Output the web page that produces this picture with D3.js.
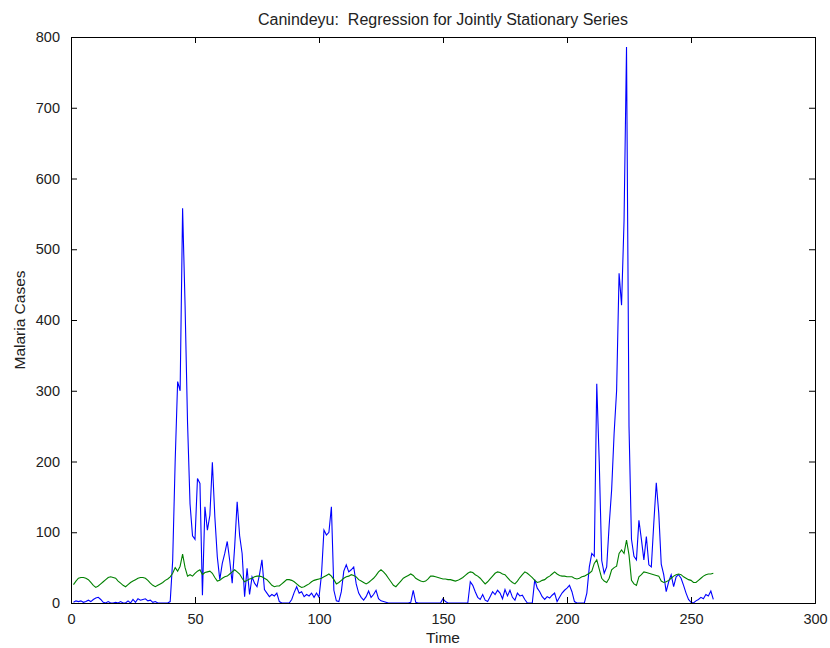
<!DOCTYPE html>
<html><head><meta charset="utf-8">
<script src="https://cdn.jsdelivr.net/npm/d3@7"></script>
<style>
html,body{margin:0;padding:0;background:#fff;}
svg{display:block;}
text{font-family:"Liberation Sans",Arial,sans-serif;fill:#222;}
</style></head>
<body>
<svg id="c" width="830" height="648"></svg>
<script>
const title = "Canindeyu:  Regression for Jointly Stationary Series";
const xLabel = "Time";
const yLabel = "Malaria Cases";
const xTicks = [0,50,100,150,200,250,300];
const yTicks = [0,100,200,300,400,500,600,700,800];

// Observed malaria cases (blue), t = 1..259
const observed = [
1,3,2,3,1,2,4,2,5,7, 8,5,1,0,2,0,0,1,0,2, 0,0,3,0,5,1,6,4,5,6, 3,4,1,2,0,0,0,0,0,2,
60,200,313,300,558,420,254,140,95,90, 176,169,11,136,103,124,199,122,65,33,
56,70,87,60,28,80,143,95,70,9, 49,12,37,28,23,40,61,19,14,9,
12,10,14,2,0,0,0,0,5,15, 23,14,16,9,12,10,14,8,14,8,
40,103,96,100,136,18,3,2,16,45, 54,44,47,51,27,14,8,4,9,17,
8,12,18,6,3,2,1,0,0,0, 0,0,0,0,0,0,1,18,1,0,
0,0,0,0,0,0,0,0,0,6, 2,0,0,0,0,0,0,0,0,0,
30,25,16,8,5,12,4,2,9,16, 12,18,14,6,19,10,18,8,4,14,
10,11,5,0,0,0,33,21,16,9, 5,9,7,11,14,2,8,14,18,21,
25,16,2,0,0,0,0,14,51,70, 66,310,200,60,42,51,110,160,240,300,
466,421,540,786,250,90,66,61,117,90, 61,94,54,51,113,170,127,55,40,16,
30,40,23,37,40,35,25,14,5,1, 0,3,5,8,6,12,10,17,5
];

// Regression fit (green), t = 1..259
const fitted = [
26,31,35,36,36,35,33,29,25,22, 24,27,30,33,36,37,36,35,31,28,
25,23,26,29,31,33,35,36,36,35, 32,28,25,23,25,27,29,32,34,37,
42,50,45,52,69,50,38,40,38,42, 45,47,40,43,44,45,42,36,31,32,
35,37,38,41,44,47,44,41,35,30, 32,34,35,37,38,38,37,35,33,29,
25,23,24,24,27,30,33,33,32,30, 27,24,22,23,25,27,30,32,33,34,
35,37,39,41,38,33,27,29,32,35, 37,38,40,39,37,33,31,29,27,29,
32,35,39,44,47,44,40,35,30,25, 23,27,31,35,37,39,41,39,35,33,
31,30,31,34,38,38,37,36,35,34, 34,33,33,32,31,32,34,36,39,42,
44,43,40,38,35,31,27,30,34,38, 42,44,43,41,40,36,32,29,27,31,
36,40,44,42,39,36,32,29,30,32, 33,36,38,41,44,41,39,38,38,37,
37,37,35,34,35,37,38,40,42,45, 56,61,48,35,31,29,35,47,50,52,
70,75,70,89,68,32,27,25,37,40, 44,43,42,41,40,39,38,31,29,30,
32,35,38,40,41,40,37,35,33,32, 29,29,32,35,38,40,41,41,42
];

const m = {left:71, right:815, top:37, bottom:603};
const svg = d3.select("#c");
const x = d3.scaleLinear().domain([0,300]).range([m.left, m.right]);
const y = d3.scaleLinear().domain([0,800]).range([m.bottom, m.top]);

const obsPts = observed.map((v,i)=>[i+1,v]);
const fitPts = fitted.map((v,i)=>[i+1,v]);
const line = d3.line().x(d=>x(d[0])).y(d=>y(d[1]));

svg.append("path").datum(obsPts).attr("d", line)
  .attr("fill","none").attr("stroke","#0000ff").attr("stroke-width",1.1);
svg.append("path").datum(fitPts).attr("d", line)
  .attr("fill","none").attr("stroke","#008000").attr("stroke-width",1.1);

const tl = 6;
const xb = d3.axisBottom(x).tickValues(xTicks).tickSize(-tl).tickPadding(tl+5).tickFormat(d3.format("d"));
const gx = svg.append("g").attr("transform",`translate(0,${m.bottom})`).call(xb);
const xt = d3.axisTop(x).tickValues(xTicks).tickSize(-tl).tickFormat("");
const gxt = svg.append("g").attr("transform",`translate(0,${m.top})`).call(xt);
const yl = d3.axisLeft(y).tickValues(yTicks).tickSize(-tl).tickPadding(tl+5).tickFormat(d3.format("d"));
const gy = svg.append("g").attr("transform",`translate(${m.left},0)`).call(yl);
const yr = d3.axisRight(y).tickValues(yTicks).tickSize(-tl).tickFormat("");
const gyr = svg.append("g").attr("transform",`translate(${m.right},0)`).call(yr);

[gx,gxt,gy,gyr].forEach(g=>{
  g.select(".domain").attr("stroke","#000").attr("stroke-width",1);
  g.selectAll(".tick line").attr("stroke","#000").attr("stroke-width",1);
  g.selectAll(".tick text").attr("font-size",14.5).attr("fill","#222")
    .style("font-family",'"Liberation Sans",Arial,sans-serif');
});

svg.append("text").attr("x",(m.left+m.right)/2).attr("y",25)
  .attr("text-anchor","middle").attr("font-size",16).style("white-space","pre")
  .attr("xml:space","preserve").text(title);
svg.append("text").attr("x",(m.left+m.right)/2).attr("y",643)
  .attr("text-anchor","middle").attr("font-size",15.5).text(xLabel);
svg.append("text").attr("transform",`translate(25,${(m.top+m.bottom)/2}) rotate(-90)`)
  .attr("text-anchor","middle").attr("font-size",15.5).text(yLabel);
</script>
</body></html>
